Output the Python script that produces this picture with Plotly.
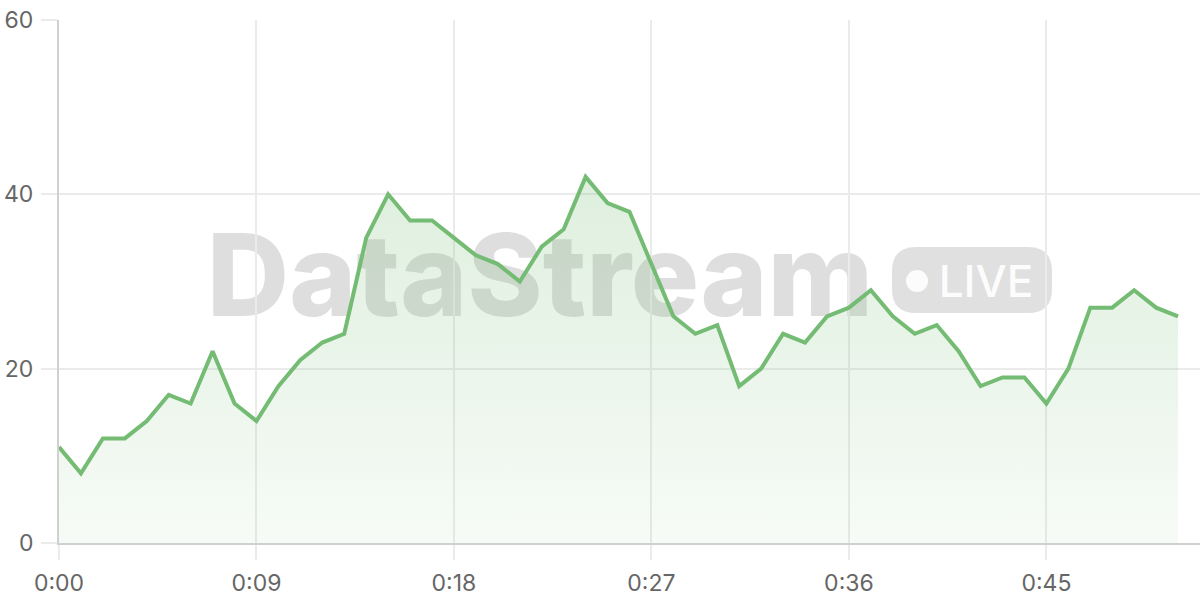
import plotly.graph_objects as go

seconds = list(range(52))
values = [11, 8, 12, 12, 14, 17, 16, 22, 16, 14,
          18, 21, 23, 24, 35, 40, 37, 37, 35, 33,
          32, 30, 34, 36, 42, 39, 38, 32, 26, 24,
          25, 18, 20, 24, 23, 26, 27, 29, 26, 24,
          25, 22, 18, 19, 19, 16, 20, 27, 27, 29,
          27, 26]
tick_vals = [0, 9, 18, 27, 36, 45]
tick_text = ["0:00", "0:09", "0:18", "0:27", "0:36", "0:45"]

W, H = 1200, 600
# plot area in window coordinates
WL, WR, WT, WB = 59, 1200, 20, 543
L, T = WL, WT
R = W - WR
B = H - WB
PW, PH = WR - WL, WB - WT

def px(x):
    return (x - WL) / PW

def py(y):
    return (WB - y) / PH

fig = go.Figure()
fig.add_trace(go.Scatter(
    x=seconds, y=values, mode="lines",
    line=dict(color="#74bb74", width=4),
    fill="tozeroy",
    fillgradient=dict(type="vertical",
                      colorscale=[[0, "rgba(118,188,118,0.06)"], [1, "rgba(118,188,118,0.24)"]]),
    hoverinfo="skip", showlegend=False,
))

shapes = []
shapes.append(dict(type="rect", xref="paper", yref="paper",
                   x0=px(200), x1=px(880), y0=py(320), y1=py(220),
                   line=dict(width=0), fillcolor="rgba(0,0,0,0)", layer="between",
                   label=dict(text="DataStream", textposition="middle center",
                              font=dict(family="Inter", size=114, weight=800,
                                        color="rgba(0,0,0,0.13)"))))
x0b, x1b, y0b, y1b, r = 892, 1052, 247, 313, 24
path = (f"M {px(x0b + r)} {py(y0b)} L {px(x1b - r)} {py(y0b)} "
        f"Q {px(x1b)} {py(y0b)} {px(x1b)} {py(y0b + r)} L {px(x1b)} {py(y1b - r)} "
        f"Q {px(x1b)} {py(y1b)} {px(x1b - r)} {py(y1b)} L {px(x0b + r)} {py(y1b)} "
        f"Q {px(x0b)} {py(y1b)} {px(x0b)} {py(y1b - r)} L {px(x0b)} {py(y0b + r)} "
        f"Q {px(x0b)} {py(y0b)} {px(x0b + r)} {py(y0b)} Z")
shapes.append(dict(type="path", xref="paper", yref="paper", path=path,
                   line=dict(width=0), fillcolor="rgba(0,0,0,0.12)", layer="between"))
shapes.append(dict(type="circle", xref="paper", yref="paper",
                   x0=px(906), x1=px(928), y0=py(292), y1=py(270),
                   line=dict(width=0), fillcolor="rgba(255,255,255,0.9)", layer="between"))
shapes.append(dict(type="rect", xref="paper", yref="paper",
                   x0=px(934), x1=px(1038), y0=py(300), y1=py(260),
                   line=dict(width=0), fillcolor="rgba(0,0,0,0)", layer="between",
                   label=dict(text="LIVE", textposition="middle center",
                              font=dict(family="Inter", size=44, weight=500,
                                        color="rgba(255,255,255,0.92)"))))

fig.update_layout(
    width=W, height=H,
    margin=dict(l=L, r=R, t=T, b=B, autoexpand=False),
    paper_bgcolor="white", plot_bgcolor="white",
    shapes=shapes,
    font=dict(family="Inter", size=23, color="#666666"),
    xaxis=dict(range=[0, 52], tickvals=tick_vals, ticktext=tick_text,
               showgrid=True, gridcolor="#ebebeb", gridwidth=1.5,
               showline=True, linecolor="#d0d0d0", linewidth=2,
               ticks="outside", ticklen=15, tickcolor="#ebebeb", tickwidth=1.5,
               zeroline=False, fixedrange=True, automargin=False, ticklabelstandoff=3,
               ticklabeloverflow="allow"),
    yaxis=dict(range=[0, 60], tickvals=[0, 20, 40, 60],
               showgrid=True, gridcolor="#ebebeb", gridwidth=1.5,
               showline=True, linecolor="#d0d0d0", linewidth=2,
               ticks="outside", ticklen=16, tickcolor="#ebebeb", tickwidth=1.5,
               zeroline=False, fixedrange=True, ticklabelstandoff=3, automargin=False,
               ticklabeloverflow="allow"),
)

fig.write_html(
    "out.html",
    config={"displayModeBar": False},
    post_script="document.body.style.margin='0';document.body.style.overflow='hidden';",
)
